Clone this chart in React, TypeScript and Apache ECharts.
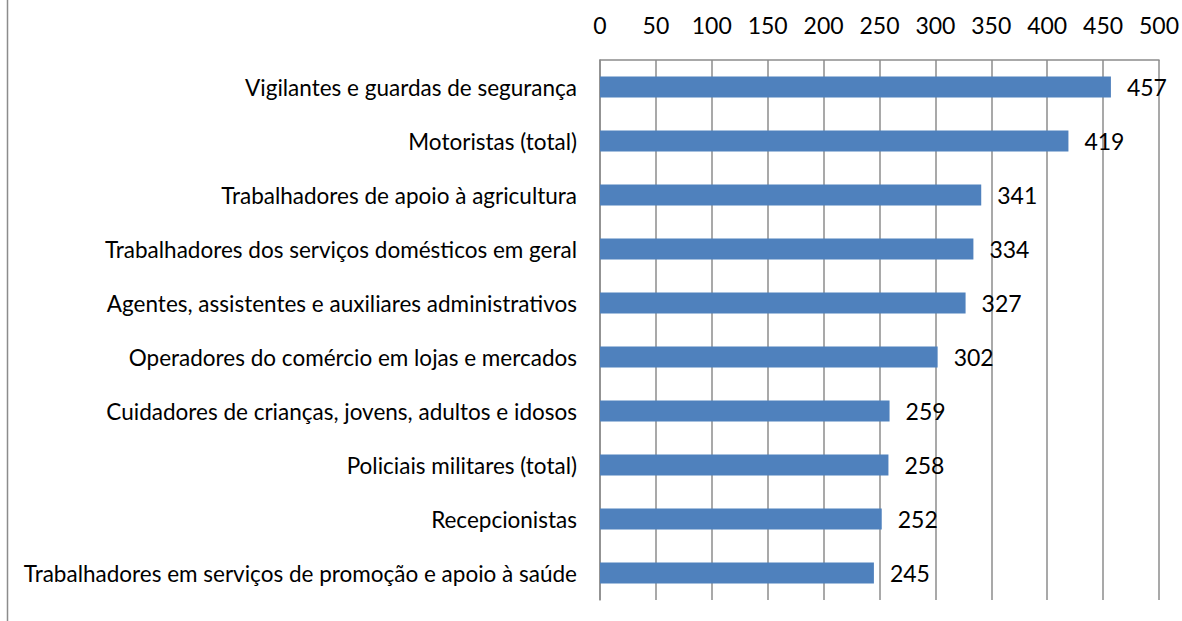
import React, { useEffect, useRef } from "react";
import * as echarts from "echarts";

const categories = [
  "Vigilantes e guardas de segurança",
  "Motoristas (total)",
  "Trabalhadores de apoio à agricultura",
  "Trabalhadores dos serviços domésticos em geral",
  "Agentes, assistentes e auxiliares administrativos",
  "Operadores do comércio em lojas e mercados",
  "Cuidadores de crianças, jovens, adultos e idosos",
  "Policiais militares (total)",
  "Recepcionistas",
  "Trabalhadores em serviços de promoção e apoio à saúde",
];
const values = [457, 419, 341, 334, 327, 302, 259, 258, 252, 245];
const axisMin = 0;
const axisMax = 500;
const axisInterval = 50;

const FONT = "Lato, 'Open Sans', sans-serif";

export default function App() {
  const ref = useRef<HTMLDivElement>(null);
  useEffect(() => {
    document.body.style.margin = "0";
    const chart = echarts.init(ref.current!, undefined, { renderer: "svg" });
    chart.setOption({
      animation: false,
      backgroundColor: "#ffffff",
      grid: { left: 600, right: 22, top: 60, bottom: 21, containLabel: false },
      graphic: [
        {
          type: "line",
          shape: { x1: 7.5, y1: 0, x2: 7.5, y2: 621 },
          style: { stroke: "#8c8c8c", lineWidth: 1.5 },
        },
      ],
      xAxis: {
        type: "value",
        position: "top",
        min: axisMin,
        max: axisMax,
        interval: axisInterval,
        axisLine: { show: true, lineStyle: { color: "#8c8c8c", width: 1.5 } },
        axisTick: { show: false },
        splitLine: { show: true, lineStyle: { color: "#8c8c8c", width: 1.5 } },
        axisLabel: {
          color: "#000",
          fontFamily: FONT,
          fontSize: 23,
          margin: 24,
        },
      },
      yAxis: {
        type: "category",
        inverse: true,
        data: categories,
        axisLine: { show: true, lineStyle: { color: "#8c8c8c", width: 1.5 } },
        axisTick: { show: false },
        splitLine: { show: false },
        axisLabel: {
          color: "#000",
          fontFamily: FONT,
          fontSize: 22.5,
          margin: 23,
        },
      },
      series: [
        {
          type: "bar",
          data: values,
          barWidth: 21,
          itemStyle: { color: "#4f81bd" },
          label: {
            show: true,
            position: "right",
            distance: 16,
            color: "#000",
            fontFamily: FONT,
            fontSize: 23,
          },
        },
      ],
    });
    return () => chart.dispose();
  }, []);
  return <div ref={ref} style={{ width: 1182, height: 621 }} />;
}
